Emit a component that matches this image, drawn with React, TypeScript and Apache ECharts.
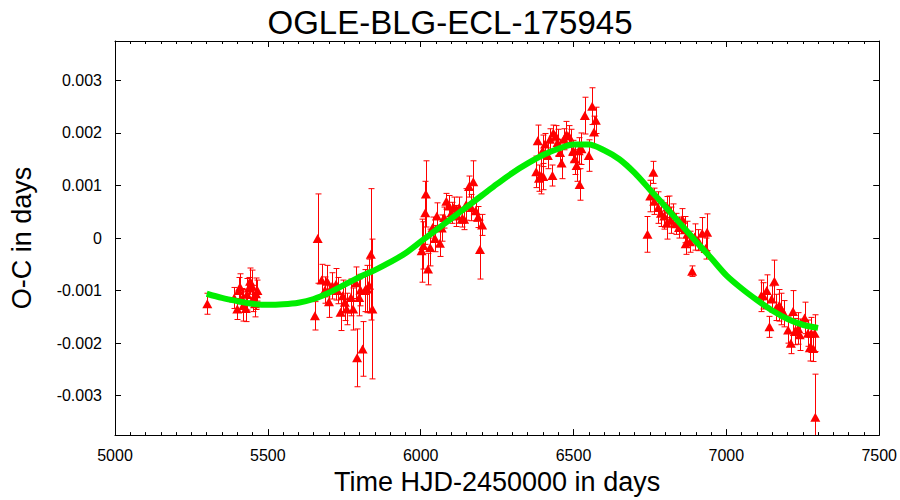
import React, { useEffect, useRef } from "react";
import * as echarts from "echarts";

// Observed eclipse times (HJD-2450000), O-C values (days) and error half-lengths (days)
const obsTime = [
  5302,
  5390, 5400, 5405, 5409, 5416, 5420, 5428, 5432, 5438, 5442, 5448, 5452, 5458, 5461, 5466,
  5654, 5663, 5676, 5687, 5694, 5700, 5711, 5723, 5728, 5738, 5745, 5752, 5758, 5772, 5779,
  5788, 5792, 5799, 5803, 5810, 5817, 5825, 5831, 5837, 5842,
  6003, 6009, 6015, 6017, 6024, 6031, 6039, 6047, 6053, 6063, 6069, 6077, 6084, 6093, 6101,
  6109, 6117, 6126, 6134, 6142, 6149, 6158, 6166, 6172, 6180, 6188, 6194, 6201,
  6378, 6383, 6387, 6394, 6399, 6401, 6407, 6416, 6423, 6431, 6434, 6442, 6448, 6456, 6461,
  6469, 6477, 6485, 6491, 6499, 6504, 6510, 6517, 6520, 6526, 6537, 6550, 6561, 6567, 6573,
  6742, 6751, 6761, 6764, 6777, 6786, 6797, 6805, 6807, 6813, 6818, 6827, 6834, 6845, 6856,
  6864, 6867, 6872, 6881, 6888, 6896, 6907, 6921, 6932, 6937,
  7114, 7121, 7132, 7141, 7148, 7157, 7164, 7173, 7180, 7189, 7202, 7211, 7218, 7224, 7235,
  7240, 7256, 7267, 7273, 7278, 7284, 7289, 7291,
];
const obsOC = [
  -0.00125,
  -0.00114, -0.00135, -0.001, -0.00093, -0.00116, -0.00128, -0.00134, -0.00107, -0.00095, -0.00082, -0.00091, -0.00115, -0.00125, -0.00106, -0.001,
  -0.00148, -0.00001, -0.0008, -0.00099, -0.00082, -0.00121, -0.00091, -0.00088, -0.001, -0.00141, -0.0011, -0.00122, -0.00135, -0.00113, -0.00135,
  -0.00085, -0.00228, -0.00113, -0.00099, -0.00211, -0.001, -0.00097, -0.0009, -0.00031, -0.00135,
  -0.00024, -0.00014, 0.00048, 0.00084, -0.00059, -0.00018, 0.0002, -0.00001, 0.00042, -0.0001, 0.00019, 0.00039, 0.0007, 0.00061, 0.00048,
  0.00058, 0.00042, 0.00058, 0.00036, 0.00036, 0.00064, 0.00098, 0.00058, 0.00107, 0.00052, 0.0004, -0.00022, 0.00025,
  0.00126, 0.00185, 0.00114, 0.00119, 0.00166, 0.00117, 0.00179, 0.00157, 0.00188, 0.00119, 0.002, 0.00194, 0.00182, 0.00163, 0.00143,
  0.00188, 0.00197, 0.00194, 0.00182, 0.00166, 0.00151, 0.00138, 0.00166, 0.00102, 0.0017, 0.00233, 0.00157, 0.00251, 0.00202, 0.00224,
  0.00007, 0.0008, 0.00125, 0.0007, 0.00058, 0.00047, 0.00042, 0.00028, 0.00059, 0.00055, 0.00034, 0.00045, 0.00027, 0.0002, 0.00036,
  0.00016, -0.00011, 0.00007, -0.00007, -0.00063, 0.00002, -0.00004, 0.00009, -0.0002, 0.00011,
  -0.0011, -0.0011, -0.001, -0.00169, -0.00116, -0.00082, -0.00132, -0.00128, -0.00135, -0.00144, -0.00175, -0.002, -0.0014, -0.00178, -0.00172,
  -0.00184, -0.00152, -0.00181, -0.00209, -0.00181, -0.0021, -0.00181, -0.00341,
];
const obsErr = [
  0.0002,
  0.0002, 0.0002, 0.00025, 0.00025, 0.0002, 0.0003, 0.00025, 0.0003, 0.0002, 0.00025, 0.0003, 0.00025, 0.00025, 0.0003, 0.0002,
  0.00027, 0.00085, 0.0003, 0.00025, 0.0003, 0.0003, 0.00025, 0.0003, 0.00025, 0.00035, 0.0003, 0.00035, 0.0003, 0.00035, 0.0004,
  0.0003, 0.00055, 0.00035, 0.0003, 0.00052, 0.0004, 0.00045, 0.0005, 0.00125, 0.00133,
  0.0006, 0.00045, 0.0006, 0.00063, 0.0003, 0.00035, 0.0002, 0.00025, 0.00025, 0.00025, 0.00025, 0.0002, 0.00015, 0.0002, 0.0002,
  0.0002, 0.0002, 0.0002, 0.00015, 0.0002, 0.0003, 0.0002, 0.00025, 0.0004, 0.0002, 0.0002, 0.00056, 0.0002,
  0.0003, 0.0003, 0.00025, 0.00035, 0.0003, 0.00025, 0.0002, 0.00025, 0.0002, 0.0002, 0.00015, 0.0002, 0.00025, 0.00025, 0.0003,
  0.0002, 0.00025, 0.0002, 0.00025, 0.0002, 0.0003, 0.0003, 0.00025, 0.0003, 0.0003, 0.00035, 0.0003, 0.00035, 0.0003, 0.00025,
  0.00034, 0.0003, 0.00021, 0.00025, 0.0003, 0.00025, 0.00025, 0.0003, 0.0002, 0.00025, 0.00025, 0.0002, 0.0002, 0.0002, 0.0002,
  0.00025, 0.0002, 0.00025, 0.0002, 0.0001, 0.00025, 0.0002, 0.0003, 0.0002, 0.00035,
  0.0003, 0.00025, 0.0003, 0.0002, 0.00025, 0.0004, 0.00025, 0.0003, 0.0003, 0.00025, 0.00025, 0.0002, 0.0004, 0.00025, 0.0003,
  0.0003, 0.0003, 0.00025, 0.00025, 0.0003, 0.00025, 0.00035, 0.00082,
];

// Fitted model curve
const fitTime = [
  5300, 5350, 5400, 5450, 5500, 5550, 5600, 5650, 5700, 5750, 5800, 5850, 5900, 5950, 6000,
  6050, 6100, 6150, 6200, 6250, 6300, 6350, 6400, 6450, 6500, 6550, 6600, 6650, 6700, 6750,
  6800, 6850, 6900, 6950, 7000, 7050, 7100, 7150, 7200, 7250, 7300,
];
const fitOC = [
  -0.00106, -0.00114, -0.0012, -0.00125, -0.00127, -0.00126, -0.00123, -0.00116, -0.00104, -0.00089, -0.00074, -0.00061, -0.00046, -0.00029, -0.00007,
  0.00015, 0.00037, 0.00059, 0.00081, 0.00103, 0.00124, 0.00142, 0.00158, 0.0017, 0.00178, 0.00178, 0.00167, 0.0015, 0.00124, 0.00092,
  0.0006, 0.00027, -0.00006, -0.00038, -0.00071, -0.00096, -0.00118, -0.00138, -0.00154, -0.00165, -0.00171,
];

const titleText = "OGLE-BLG-ECL-175945";
const xName = "Time HJD-2450000 in days";
const yName = "O-C in days";

const FONT = "Liberation Sans, Arial, sans-serif";

export default function App() {
  const ref = useRef<HTMLDivElement>(null);

  useEffect(() => {
    if (!ref.current) return;
    const chart = echarts.init(ref.current, undefined, { renderer: "svg" });

    const errData = obsTime.map((t, i) => [t, obsOC[i] - obsErr[i], obsOC[i] + obsErr[i]]);
    const ptData = obsTime.map((t, i) => [t, obsOC[i]]);
    const fitData = fitTime.map((t, i) => [t, fitOC[i]]);

    const xCommon = {
      type: "value" as const,
      min: 5000,
      max: 7500,
      interval: 500,
      axisLine: { show: true, onZero: false, lineStyle: { color: "#000", width: 1 } },
      axisTick: { show: true, inside: true, length: 6, lineStyle: { color: "#000" } },
      minorTick: { show: true, splitNumber: 10, length: 3, lineStyle: { color: "#000" } },
      splitLine: { show: false },
      minorSplitLine: { show: false },
    };
    const yCommon = {
      type: "value" as const,
      min: -0.00375,
      max: 0.00375,
      splitNumber: 7,
      minInterval: 0.001,
      maxInterval: 0.001,
      axisLine: { show: true, onZero: false, lineStyle: { color: "#000", width: 1 } },
      axisTick: { show: true, inside: true, length: 6, lineStyle: { color: "#000" } },
      splitLine: { show: false },
    };

    chart.setOption({
      animation: false,
      backgroundColor: "#fff",
      title: {
        text: titleText,
        left: "center",
        top: 1,
        textStyle: { fontFamily: FONT, fontSize: 33, fontWeight: "normal", color: "#000" },
      },
      grid: { left: 110, right: 20, top: 41, bottom: 58, containLabel: false },
      xAxis: [
        {
          ...xCommon,
          position: "bottom",
          axisLabel: {
            color: "#000",
            fontSize: 16,
            margin: 12,
            fontFamily: FONT,
            formatter: (v: number) => String(v),
          },
          name: xName,
          nameLocation: "middle",
          nameGap: 29,
          nameTextStyle: { fontFamily: FONT, fontSize: 27, color: "#000" },
        },
        {
          ...xCommon,
          position: "top",
          axisLabel: { show: false },
        },
      ],
      yAxis: [
        {
          ...yCommon,
          position: "left",
          axisLabel: {
            color: "#000",
            fontSize: 16,
            margin: 13,
            fontFamily: FONT,
            showMinLabel: false,
            showMaxLabel: false,
            formatter: (v: number) => String(+v.toFixed(4)),
          },
          name: yName,
          nameLocation: "middle",
          nameGap: 80,
          nameTextStyle: { fontFamily: FONT, fontSize: 27, color: "#000" },
        },
        {
          ...yCommon,
          position: "right",
          axisLabel: { show: false },
        },
      ],
      series: [
        {
          type: "custom",
          xAxisIndex: 0,
          yAxisIndex: 0,
          clip: true,
          z: 1,
          encode: { x: 0, y: [1, 2] },
          data: errData,
          renderItem: (params: any, api: any) => {
            const x = api.value(0);
            const lo = api.value(1);
            const hi = api.value(2);
            const a = api.coord([x, hi]);
            const b = api.coord([x, lo]);
            const px = Math.round(a[0]) + 0.5;
            const c = 3;
            const style = { stroke: "#ff0000", lineWidth: 1 };
            return {
              type: "group",
              children: [
                { type: "line", shape: { x1: px, y1: a[1], x2: px, y2: b[1] }, style },
                { type: "line", shape: { x1: px - c, y1: a[1], x2: px + c, y2: a[1] }, style },
                { type: "line", shape: { x1: px - c, y1: b[1], x2: px + c, y2: b[1] }, style },
              ],
            };
          },
        },
        {
          type: "scatter",
          xAxisIndex: 0,
          yAxisIndex: 0,
          symbol: "triangle",
          symbolSize: [10, 9],
          itemStyle: { color: "#ff0000", opacity: 1 },
          z: 2,
          data: ptData,
        },
        {
          type: "line",
          xAxisIndex: 0,
          yAxisIndex: 0,
          data: fitData,
          smooth: 0.3,
          showSymbol: false,
          symbol: "none",
          lineStyle: { color: "#00ee00", width: 6 },
          z: 3,
        },
      ],
    });

    return () => chart.dispose();
  }, []);

  return <div ref={ref} style={{ width: 900, height: 500, position: "absolute", left: 0, top: 0 }} />;
}
